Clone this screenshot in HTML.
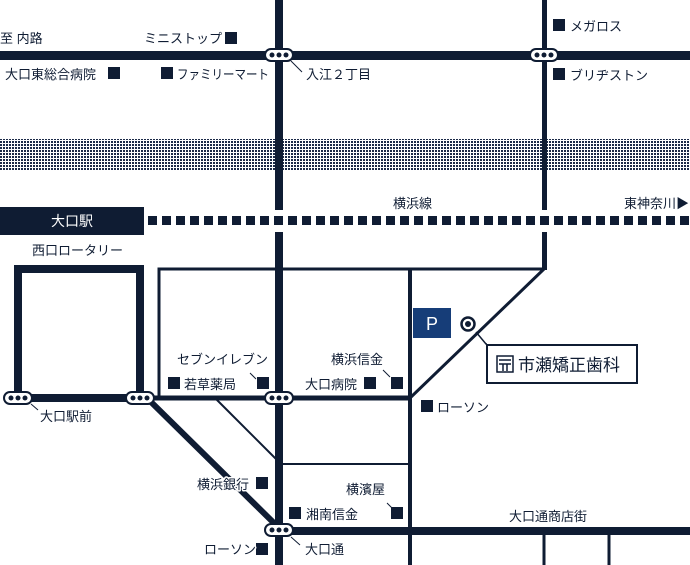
<!DOCTYPE html>
<html><head><meta charset="utf-8"><style>
html,body{margin:0;padding:0;background:#fff;}
svg{display:block}
text{font-family:"Liberation Sans","Noto Sans CJK JP",sans-serif;font-size:13px;fill:#0f1c33;stroke:#fff;stroke-width:3px;paint-order:stroke;stroke-linejoin:round;}
</style></head><body>
<svg width="690" height="565" viewBox="0 0 690 565" xmlns="http://www.w3.org/2000/svg">
<defs>
<pattern id="ck" width="3" height="3" patternUnits="userSpaceOnUse">
<rect width="3" height="3" fill="#fff"/><rect width="2" height="2" fill="#1c2a48"/>
</pattern>
<g id="bs"><rect x="-14" y="-6" width="28" height="12" rx="6" fill="#fff" stroke="#0f1c33" stroke-width="2"/><circle cx="-7" cy="0" r="2.5" fill="#0f1c33"/><circle cx="0" cy="0" r="2.5" fill="#0f1c33"/><circle cx="7" cy="0" r="2.5" fill="#0f1c33"/></g>
</defs>
<g fill="#0f1c33" stroke="none">
<rect x="0" y="139" width="690" height="31" fill="url(#ck)"/>
<rect x="0" y="51" width="690" height="9"/>
<rect x="275" y="0" width="8" height="210"/>
<rect x="275" y="232" width="8" height="333"/>
<rect x="542" y="0" width="5" height="210"/>
<rect x="542" y="232" width="5" height="38"/>
<rect x="0" y="207" width="144" height="28"/>
</g>
<text x="72" y="226" text-anchor="middle" style="fill:#fff;stroke:none;font-size:14px">大口駅</text>
<line x1="148" y1="220.5" x2="690" y2="220.5" stroke="#0f1c33" stroke-width="9" stroke-dasharray="9 5"/>
<g stroke="#0f1c33" fill="none">
<rect x="18" y="269" width="122" height="129" stroke-width="8"/>
<polyline points="159,398 159,269 544,269" stroke-width="3"/>
<line x1="544" y1="269" x2="410" y2="398" stroke-width="3"/>
<line x1="140" y1="398" x2="410" y2="398" stroke-width="5"/>
<line x1="410" y1="268" x2="410" y2="565" stroke-width="4"/>
<line x1="279" y1="464" x2="410" y2="464" stroke-width="2"/>
<line x1="215" y1="398" x2="279" y2="462" stroke-width="2"/>
<line x1="150" y1="401" x2="279" y2="528" stroke-width="6"/>
<line x1="279" y1="531" x2="690" y2="531" stroke-width="8"/>
<line x1="544" y1="531" x2="544" y2="565" stroke-width="3"/>
<line x1="609" y1="531" x2="609" y2="565" stroke-width="3"/>
<line x1="291" y1="61" x2="302" y2="72" stroke-width="1"/>
<line x1="31" y1="404" x2="38" y2="410" stroke-width="1"/>
<line x1="291" y1="537" x2="300" y2="545" stroke-width="1"/>
<line x1="250" y1="373" x2="256" y2="379" stroke-width="1"/>
<line x1="383" y1="370" x2="390" y2="377" stroke-width="1"/>
<line x1="387" y1="503" x2="393" y2="509" stroke-width="1"/>
<polyline points="476,332 486,344 487,344" stroke-width="1.5"/>
</g>
<use href="#bs" x="279" y="55"/><use href="#bs" x="544" y="55"/>
<use href="#bs" x="18" y="398"/><use href="#bs" x="140" y="398"/>
<use href="#bs" x="279" y="398"/><use href="#bs" x="279" y="530"/>
<rect x="413" y="308" width="38" height="30" fill="#163d78"/>
<text x="432" y="330" text-anchor="middle" style="fill:#fff;stroke:none;font-size:18px">P</text>
<circle cx="468" cy="324" r="6.5" fill="#fff" stroke="#0f1c33" stroke-width="2.5"/><circle cx="468" cy="324" r="3" fill="#0f1c33"/>
<rect x="487" y="345" width="150" height="38" fill="#fff" stroke="#0f1c33" stroke-width="2"/>
<rect x="497" y="356" width="16" height="16" fill="#fff" stroke="#0f1c33" stroke-width="1.5"/>
<path d="M499 360h12M499 364h12M503 364v7M507 364v7" stroke="#0f1c33" stroke-width="1.5"/>
<text x="518" y="371" style="font-size:17px;stroke:none">市瀬矯正歯科</text>
<g fill="#0f1c33">
<rect x="225" y="32" width="12" height="12"/>
<rect x="108" y="67" width="12" height="12"/>
<rect x="161" y="67" width="12" height="12"/>
<rect x="553" y="19" width="12" height="12"/>
<rect x="553" y="68" width="12" height="12"/>
<rect x="168" y="377" width="12" height="12"/>
<rect x="257" y="377" width="12" height="12"/>
<rect x="364" y="377" width="12" height="12"/>
<rect x="391" y="377" width="12" height="12"/>
<rect x="421" y="400" width="12" height="12"/>
<rect x="256" y="477" width="12" height="12"/>
<rect x="289" y="507" width="12" height="12"/>
<rect x="391" y="507" width="12" height="12"/>
<rect x="256" y="543" width="12" height="12"/>
</g>
<text x="0" y="43">至 内路</text>
<text x="144" y="43">ミニストップ</text>
<text x="5" y="79">大口東総合病院</text>
<text x="177" y="79" textLength="92" lengthAdjust="spacingAndGlyphs">ファミリーマート</text>
<text x="306" y="79">入江２丁目</text>
<text x="570" y="31">メガロス</text>
<text x="570" y="80">ブリヂストン</text>
<text x="393" y="208">横浜線</text>
<text x="624" y="208">東神奈川▶</text>
<text x="32" y="255">西口ロータリー</text>
<text x="40" y="421">大口駅前</text>
<text x="177" y="364">セブンイレブン</text>
<text x="184" y="389">若草薬局</text>
<text x="331" y="364">横浜信金</text>
<text x="305" y="389">大口病院</text>
<text x="437" y="412">ローソン</text>
<text x="197" y="489">横浜銀行</text>
<text x="346" y="494">横濱屋</text>
<text x="306" y="519">湘南信金</text>
<text x="509" y="521">大口通商店街</text>
<text x="204" y="554">ローソン</text>
<text x="305" y="554">大口通</text>
</svg>
</body></html>
